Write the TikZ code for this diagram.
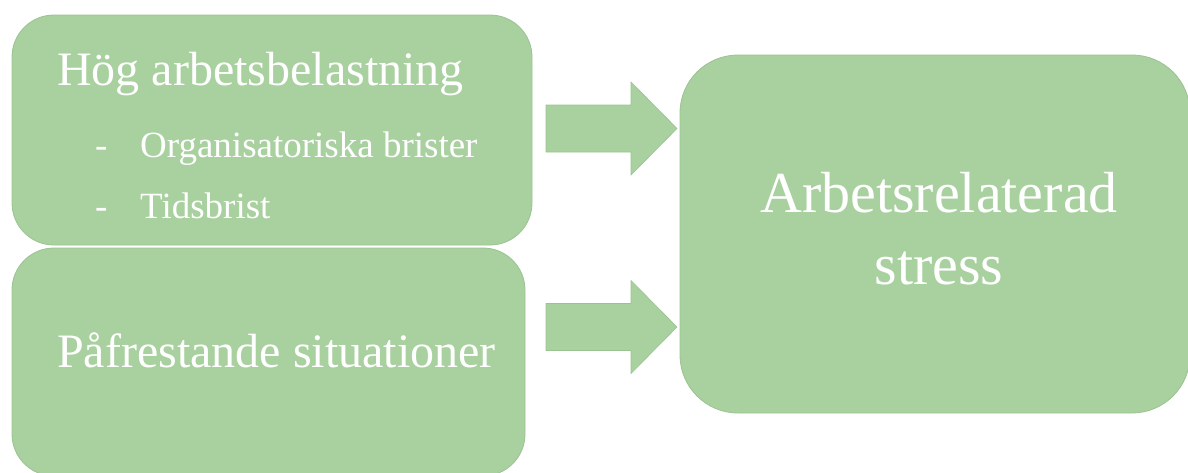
\documentclass[tikz,border=0pt]{standalone}
\usepackage{fontspec}
\setmainfont{Liberation Serif}
\usetikzlibrary{positioning}
\definecolor{BoxGreen}{HTML}{A9D09F}
\definecolor{EdgeGreen}{HTML}{9BC391}
\definecolor{GlowGreen}{HTML}{C4E4BA}

\begin{document}
\begin{tikzpicture}[
  x=1pt, y=-1pt,
  gbox/.style={rectangle, rounded corners=42pt, fill=BoxGreen, draw=EdgeGreen,
               line width=0.8pt, inner sep=0pt},
  garrow/.style={fill=BoxGreen, draw=EdgeGreen, line width=0.6pt},
  bigtxt/.style={text=white, font=\fontsize{48}{56}\selectfont, anchor=base west, inner sep=0pt},
  itemtxt/.style={text=white, font=\fontsize{37}{44}\selectfont, anchor=base west, inner sep=0pt},
  restxt/.style={text=white, font=\fontsize{58}{72}\selectfont, align=center, inner sep=0pt},
  blockarrow/.pic={
    \path[garrow] (0,-23.5) -- (85,-23.5) -- (85,-46.5) -- (131,0)
      -- (85,46.5) -- (85,23.5) -- (0,23.5) -- cycle;
  },
]
  \useasboundingbox (0,0) rectangle (1188,472);

  % Boxes
  \node[gbox, minimum width=520pt, minimum height=230pt] (load) at (272,130) {};
  \node[gbox, minimum width=513pt, minimum height=228pt] (sit) at (268.5,362) {};
  \node[gbox, rounded corners=58pt, minimum width=510pt, minimum height=358pt] (stress) at (935,234) {};

  % Texts
  \node[bigtxt] (loadtitle) at (57,85) {Hög arbetsbelastning};
  \node[itemtxt] (dashA) at (95,157) {-};
  \node[itemtxt] (org) at (140,157) {Organisatoriska brister};
  \node[itemtxt] (dashB) at (95,218) {-};
  \node[itemtxt] (time) at (140,218) {Tidsbrist};
  \node[bigtxt] (sittitle) at (57,367) {Påfrestande situationer};
  \node[restxt] (stresstxt) at (939,229) {Arbetsrelaterad\\stress};

  % Arrows
  \coordinate (arrA) at (546,128.5);
  \coordinate (arrB) at (546,327);
  \pic at (arrA) {blockarrow};
  \pic at (arrB) {blockarrow};
\end{tikzpicture}
\end{document}
